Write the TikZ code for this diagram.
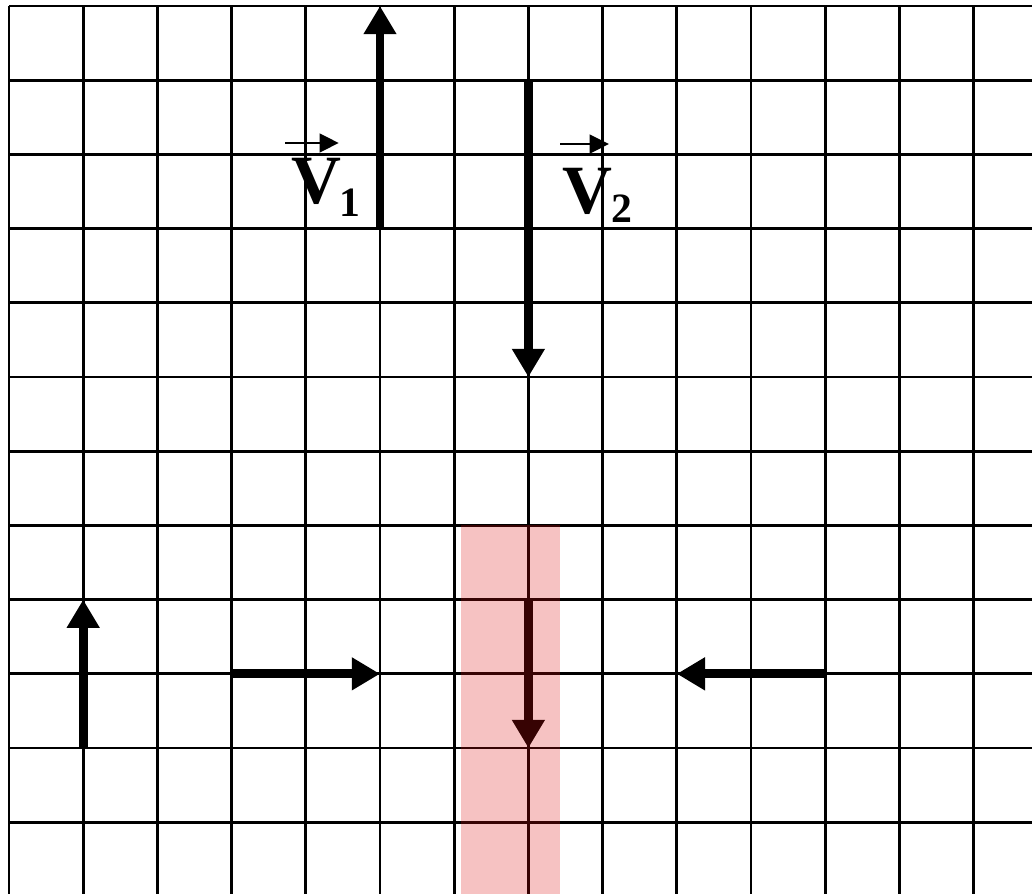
\documentclass[tikz,border=0pt]{standalone}
\usepackage{fontspec}
\setmainfont{Liberation Serif}
\usetikzlibrary{arrows.meta}
\begin{document}
\begin{tikzpicture}[x=1cm,y=1cm,
  gridline/.style={line width=1.1pt, black},
  bigarrow/.style={line width=3.4pt, black, -{Triangle[length=0.38cm,width=0.42cm]}},
  vecarrow/.style={line width=1.1pt, black, -{Triangle[length=0.26cm,width=0.25cm]}},
  letter/.style={font=\fontsize{26.5}{30}\selectfont\bfseries, inner sep=0pt, anchor=base},
  subsc/.style={font=\fontsize{16}{18}\selectfont\bfseries, inner sep=0pt, anchor=base west},
  pinkband/.style={fill={rgb,255:red,220;green,12;blue,12}, fill opacity=0.25, draw=none}
]
\useasboundingbox (-0.121,0.081) rectangle (13.787,-11.967);
\clip (-0.121,0.081) rectangle (13.787,-11.967);
% grid
\draw[gridline] (0,0) grid (14,-12.5);
% arrow end points
\coordinate (a1s) at (5,-3);  \coordinate (a1e) at (5,0);
\coordinate (a2s) at (7,-1);  \coordinate (a2e) at (7,-5);
\coordinate (a3s) at (1,-10); \coordinate (a3e) at (1,-8);
\coordinate (a4s) at (3,-9);  \coordinate (a4e) at (5,-9);
\coordinate (a5s) at (7,-8);  \coordinate (a5e) at (7,-10);
\coordinate (a6s) at (11,-9); \coordinate (a6e) at (9,-9);
\draw[bigarrow] (a1s) -- (a1e);
\draw[bigarrow] (a2s) -- (a2e);
\draw[bigarrow] (a3s) -- (a3e);
\draw[bigarrow] (a4s) -- (a4e);
\draw[bigarrow] (a5s) -- (a5e);
\draw[bigarrow] (a6s) -- (a6e);
% labels
\node[letter] (v1) at (4.144,-2.655) {V};
\node[subsc] (s1) at (4.453,-2.83) {1};
\coordinate (v1a) at (3.72,-1.846); \coordinate (v1b) at (4.445,-1.846);
\draw[vecarrow] (v1a) -- (v1b);
\node[letter] (v2) at (7.79,-2.79) {V};
\node[subsc] (s2) at (8.11,-2.911) {2};
\coordinate (v2a) at (7.426,-1.86); \coordinate (v2b) at (8.086,-1.86);
\draw[vecarrow] (v2a) -- (v2b);
% highlighted band
\path[pinkband] (6.09,-7) rectangle (7.43,-12.5);
\end{tikzpicture}
\end{document}
